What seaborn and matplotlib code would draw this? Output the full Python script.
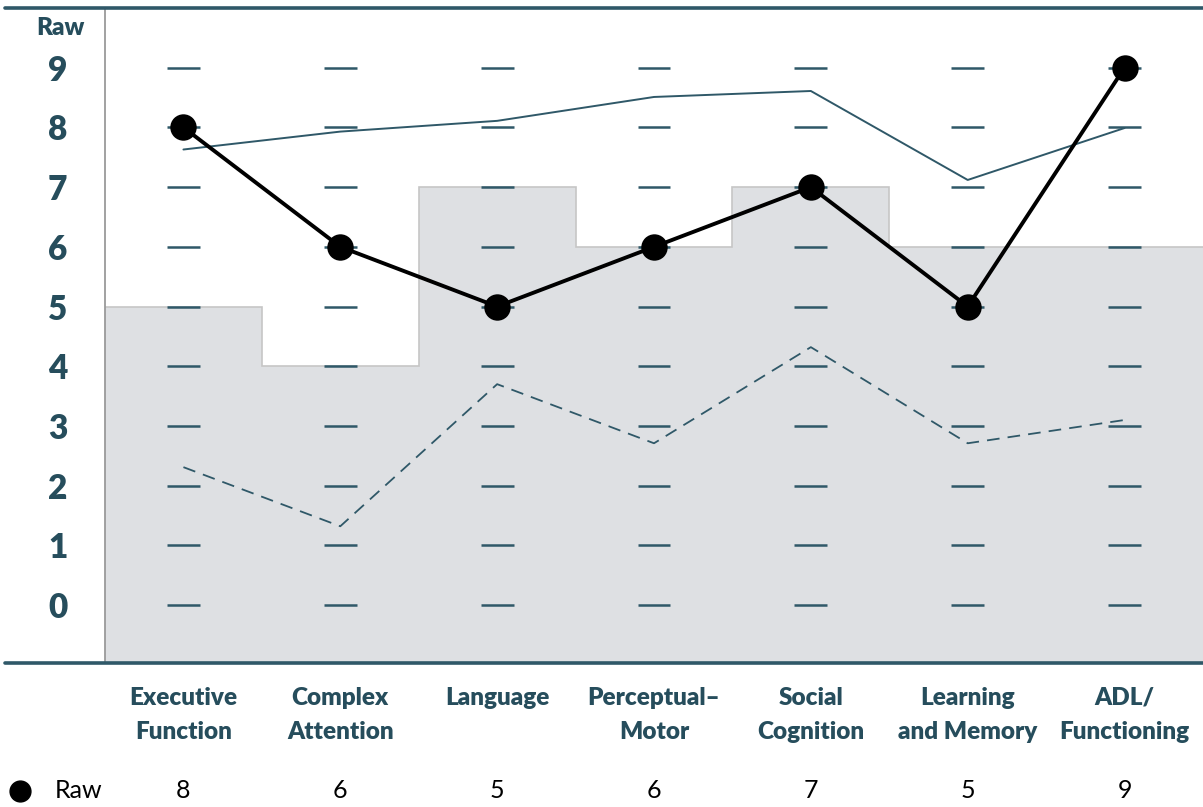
import matplotlib
matplotlib.use("Agg")
import matplotlib.pyplot as plt
import matplotlib.transforms as mtransforms
from matplotlib.lines import Line2D
import numpy as np
import pandas as pd
import seaborn as sns

# ---------------- data ----------------
categories = ["Executive\nFunction", "Complex\nAttention", "Language",
              "Perceptual\u2013\nMotor", "Social\nCognition",
              "Learning\nand Memory", "ADL/\nFunctioning"]
raw_values = [8, 6, 5, 6, 7, 5, 9]
shaded_values = [5, 4, 7, 6, 7, 6, 6]
upper_values = [7.63, 7.93, 8.11, 8.51, 8.61, 7.12, 7.99]
lower_values = [2.31, 1.32, 3.70, 2.71, 4.32, 2.71, 3.10]
y_ticks = list(range(10))
y_title = "Raw"
legend_label = "Raw"

# ---------------- style ----------------
sns.set_theme(style="white")
plt.rcParams["font.family"] = ["Lato", "DejaVu Sans"]
TEAL = "#264d5c"
LINE_TEAL = "#2f5868"
GREY_FILL = "#dee0e3"
GREY_EDGE = "#c6c6c6"
HEAVY = "heavy"

W, H = 1203, 807
fig = plt.figure(figsize=(W / 100, H / 100), dpi=100)
ax = fig.add_axes([105 / W, 1 - 663 / H, 1098 / W, 655 / H])
ymin, ymax = -0.97, 10.0
ax.set_xlim(-0.5, 6.5)
ax.set_ylim(ymin, ymax)

x = np.arange(len(categories))
df = pd.DataFrame({"x": x, "raw": raw_values, "upper": upper_values,
                   "lower": lower_values})

# shaded step background
edges = np.arange(len(categories) + 1) - 0.5
ax.stairs(shaded_values, edges, baseline=ymin, fill=True, color=GREY_FILL, zorder=1)
ax.stairs(shaded_values, edges, baseline=None, color=GREY_EDGE, linewidth=1.2, zorder=1.5)

# short tick dashes at each integer level per category
for xi in x:
    ax.hlines(y_ticks, xi - 0.105, xi + 0.105, color=LINE_TEAL, linewidth=1.8, zorder=2)

# upper and lower reference lines
sns.lineplot(data=df, x="x", y="upper", ax=ax, color=LINE_TEAL, linewidth=1.4, zorder=3)
sns.lineplot(data=df, x="x", y="lower", ax=ax, color=LINE_TEAL, linewidth=1.3,
             linestyle=(0, (7, 4.5)), zorder=3)

# raw line with markers
sns.lineplot(data=df, x="x", y="raw", ax=ax, color="black", linewidth=2.8, zorder=4)
sns.scatterplot(data=df, x="x", y="raw", ax=ax, color="black", s=310,
                edgecolor="black", zorder=5)

# axes styling
for s in ["top", "right", "bottom"]:
    ax.spines[s].set_visible(False)
ax.spines["left"].set_color("#9a9a9a")
ax.spines["left"].set_linewidth(1.3)
ax.set_xlabel("")
ax.set_ylabel("")
ax.set_yticks(y_ticks)
ax.set_yticklabels([str(v) for v in y_ticks], fontsize=24, fontweight=HEAVY, color=TEAL)
ax.tick_params(axis="y", length=0, pad=27)
ax.set_xticks(x)
ax.set_xticklabels(categories, fontsize=17.5, fontweight=HEAVY, color=TEAL,
                   linespacing=1.68, va="top")
ax.tick_params(axis="x", length=0, pad=17)

# frame lines at top and bottom
fig.add_artist(Line2D([5 / W, 1], [1 - 8 / H, 1 - 8 / H], color=LINE_TEAL, linewidth=2.6))
fig.add_artist(Line2D([5 / W, 1], [1 - 663 / H, 1 - 663 / H], color=LINE_TEAL, linewidth=2.6))

# axis title
fig.text(60 / W, 1 - 28 / H, y_title, fontsize=17.5, fontweight=HEAVY, color=TEAL,
         ha="center", va="center")

# bottom legend row with values
fig.add_artist(Line2D([20 / W], [1 - 791 / H], marker="o", markersize=15,
                      color="black", linestyle="none"))
fig.text(55 / W, 1 - 791 / H, legend_label, fontsize=18, color="black",
         ha="left", va="center")
trans = mtransforms.blended_transform_factory(ax.transData, fig.transFigure)
for xi, v in zip(x, raw_values):
    ax.text(xi, 1 - 791 / H, str(v), transform=trans, fontsize=18, color="black",
            ha="center", va="center")

fig.savefig("out.png", dpi=100, facecolor="white")
